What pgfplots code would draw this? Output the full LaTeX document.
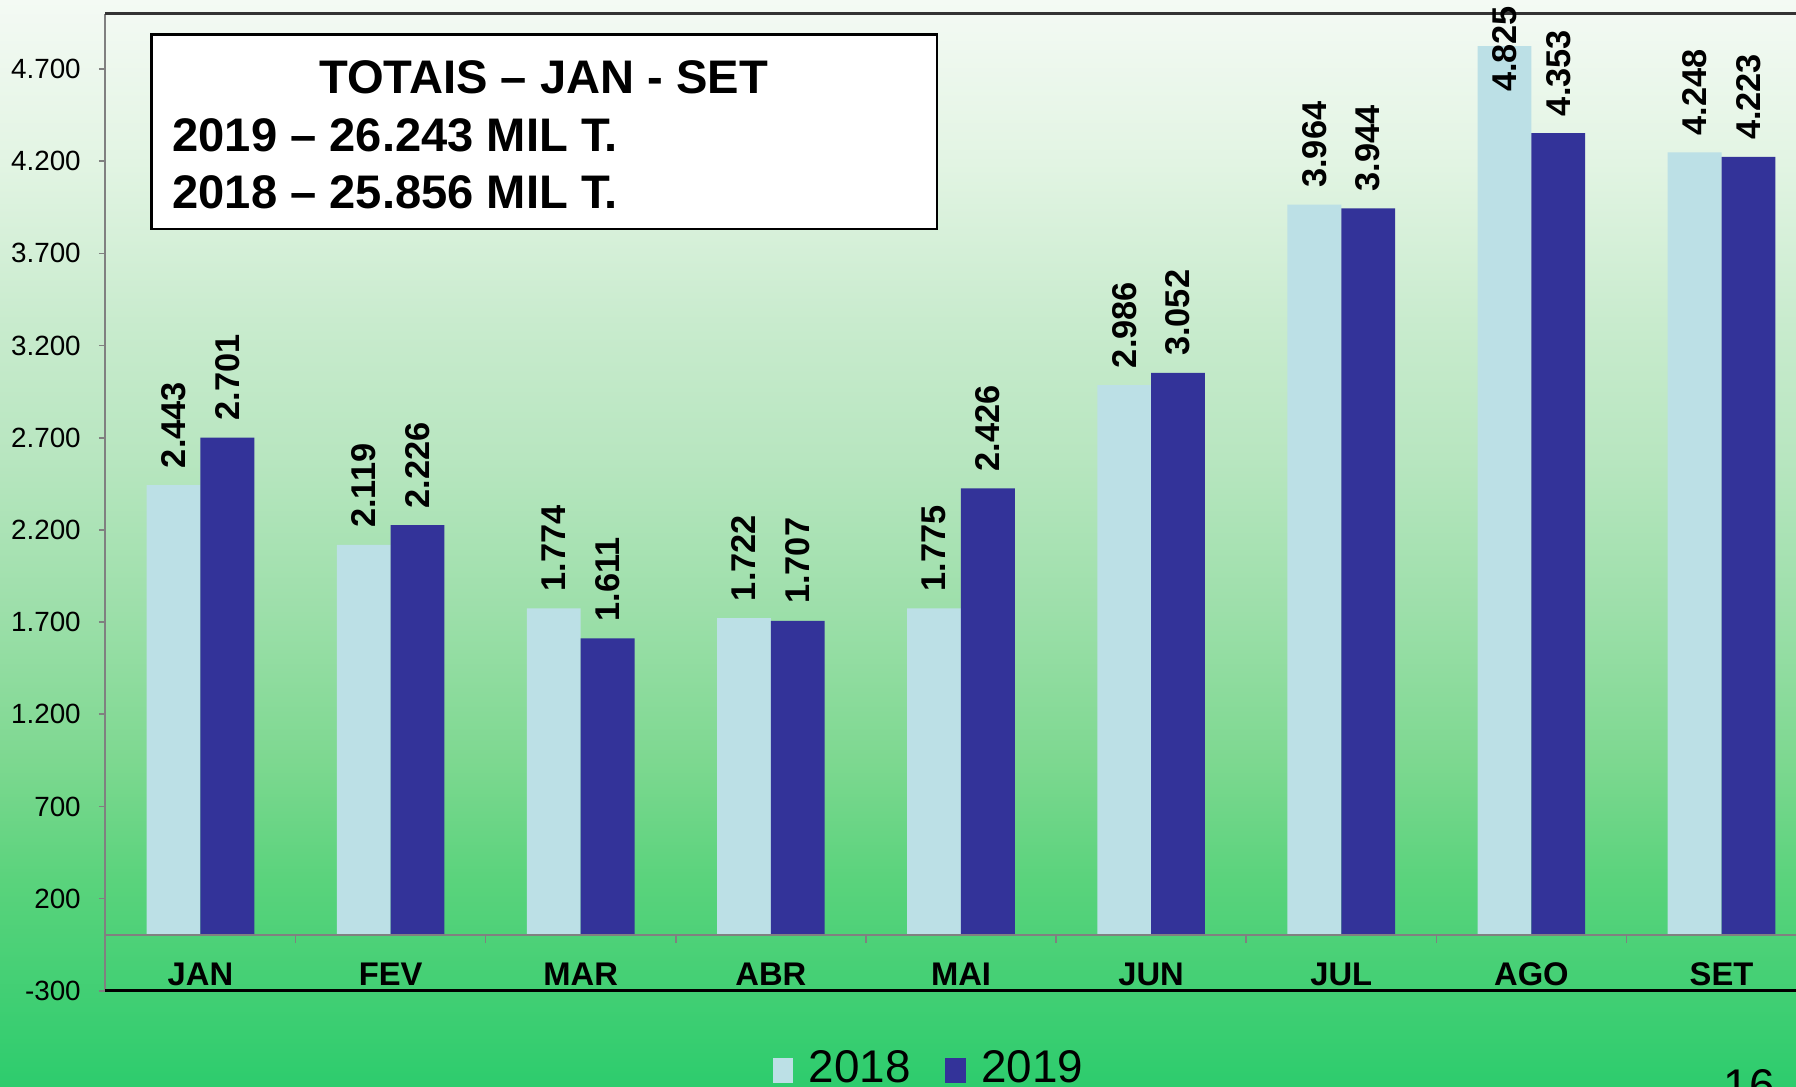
\documentclass[border=0pt]{standalone}
\usepackage{pgfplots}
\pgfplotsset{compat=1.18}
\usepackage{fontspec}
\setmainfont{Liberation Sans}
\definecolor{c18}{HTML}{BCE0E6}
\definecolor{c19}{HTML}{333399}
\definecolor{s0}{HTML}{2DCC6D}
\definecolor{s1}{HTML}{5AD37C}
\definecolor{s2}{HTML}{7DD890}
\definecolor{s3}{HTML}{9DDFAA}
\definecolor{s4}{HTML}{B8E6C0}
\definecolor{s5}{HTML}{C8EBCD}
\definecolor{s6}{HTML}{E2F4E3}
\definecolor{s7}{HTML}{F4FAF4}
\pgfdeclareverticalshading{bgshade}{100bp}{color(0bp)=(s0); color(25bp)=(s0); color(34.5bp)=(s1); color(40bp)=(s2); color(47bp)=(s3); color(54bp)=(s4); color(60bp)=(s5); color(67.5bp)=(s6); color(75bp)=(s7); color(100bp)=(s7)}
\pgfplotsset{/pgfplots/ybar legend/.style={/pgfplots/legend image code/.code={\fill[##1] (0pt,-4.4pt) rectangle (6.3pt,3.3pt); \path[draw=none,fill=none] (0pt,-4.4pt) rectangle (9pt,3.3pt);}}}
\begin{document}
\begin{tikzpicture}
\shade[shading=bgshade] (0,0) rectangle (548.8pt,332.15pt);
\begin{axis}[
  at={(32.2pt,29.4pt)}, anchor=south west,
  scale only axis, width=522.9pt, height=298.55pt,
  xmin=-0.5, xmax=8.5, ymin=-300, ymax=5000,
  ybar=0pt, bar width=16.45pt,
  axis line style={draw=none},
  clip=false,
  /pgf/number format/assume math mode=true,
  xtick={0,1,2,3,4,5,6,7,8},
  xticklabels={JAN,FEV,MAR,ABR,MAI,JUN,JUL,AGO,SET},
  xtick style={draw=none},
  xticklabel style={font=\bfseries\fontsize{10}{12}\selectfont, anchor=base, yshift=3.75pt},
  ytick={-300,200,700,1200,1700,2200,2700,3200,3700,4200,4700},
  yticklabels={-300,200,700,1.200,1.700,2.200,2.700,3.200,3.700,4.200,4.700},
  yticklabel style={font=\fontsize{8.5}{10}\selectfont, xshift=-2pt},
  ytick style={gray, line width=0.5pt},
  tick align=outside, major tick length=2pt,
  visualization depends on={value \thisrow{anc} \as \labanc},
  visualization depends on={value \thisrow{sep} \as \labsep},
  nodes near coords={\pgfmathprintnumber[fixed,1000 sep={.}]{\pgfplotspointmeta}},
  every node near coord/.append style={rotate=90, anchor=\labanc, minimum width=0pt, inner xsep={\labsep pt}, font=\bfseries\fontsize{10.5}{12}\selectfont, text=black},
  legend style={at={(0.4826,-0.0797)}, anchor=center, draw=none, fill=none,
    font=\fontsize{14}{16}\selectfont, /tikz/every even column/.style={column sep=8.5pt}},
  legend columns=2,
]
\addplot[fill=c18, draw=none] table[x=x, y=y] {
x y anc sep
0 2443 west 5
1 2119 west 5
2 1774 west 5
3 1722 west 5
4 1775 west 5
5 2986 west 5
6 3964 west 5
7 4825 east -12.45
8 4248 west 5
};
\addplot[fill=c19, draw=none] table[x=x, y=y] {
x y anc sep
0 2701 west 5
1 2226 west 5
2 1611 west 5
3 1707 west 5
4 2426 west 5
5 3052 west 5
6 3944 west 5
7 4353 west 5
8 4223 west 5
};
\legend{2018,2019}
\draw[gray, line width=0.6pt] (axis cs:-0.5,-300) -- (axis cs:-0.5,5000);
\draw[black!80, line width=0.8pt] (axis cs:-0.5,5000) -- (axis cs:8.5,5000);
\draw[black, line width=1pt] (axis cs:-0.5,-300) -- (axis cs:8.5,-300);
\draw[gray, line width=0.6pt] (axis cs:-0.5,0) -- (axis cs:8.5,0);
\draw[gray, line width=0.5pt] (axis cs:0.5,0) -- (axis cs:0.5,-40);
\draw[gray, line width=0.5pt] (axis cs:1.5,0) -- (axis cs:1.5,-40);
\draw[gray, line width=0.5pt] (axis cs:2.5,0) -- (axis cs:2.5,-40);
\draw[gray, line width=0.5pt] (axis cs:3.5,0) -- (axis cs:3.5,-40);
\draw[gray, line width=0.5pt] (axis cs:4.5,0) -- (axis cs:4.5,-40);
\draw[gray, line width=0.5pt] (axis cs:5.5,0) -- (axis cs:5.5,-40);
\draw[gray, line width=0.5pt] (axis cs:6.5,0) -- (axis cs:6.5,-40);
\draw[gray, line width=0.5pt] (axis cs:7.5,0) -- (axis cs:7.5,-40);
\end{axis}
\draw[black, line width=0.8pt, fill=white] (46.2pt,262.15pt) rectangle (286.3pt,321.65pt);
\node[anchor=base, inner sep=0pt, font=\bfseries\fontsize{14.4}{17}\selectfont] at (166.1pt,303.45pt) {TOTAIS – JAN - SET};
\node[anchor=base west, inner sep=0pt, font=\bfseries\fontsize{14.4}{17}\selectfont] at (52.5pt,285.95pt) {2019 – 26.243 MIL T.};
\node[anchor=base west, inner sep=0pt, font=\bfseries\fontsize{14.4}{17}\selectfont] at (52.5pt,268.45pt) {2018 – 25.856 MIL T.};
\node[anchor=base, inner sep=0pt, font=\fontsize{14}{16}\selectfont] at (534.5pt,-4.5pt) {16};
\pgfresetboundingbox
\useasboundingbox (0,0) rectangle (548.8pt,332.15pt);
\end{tikzpicture}
\end{document}
